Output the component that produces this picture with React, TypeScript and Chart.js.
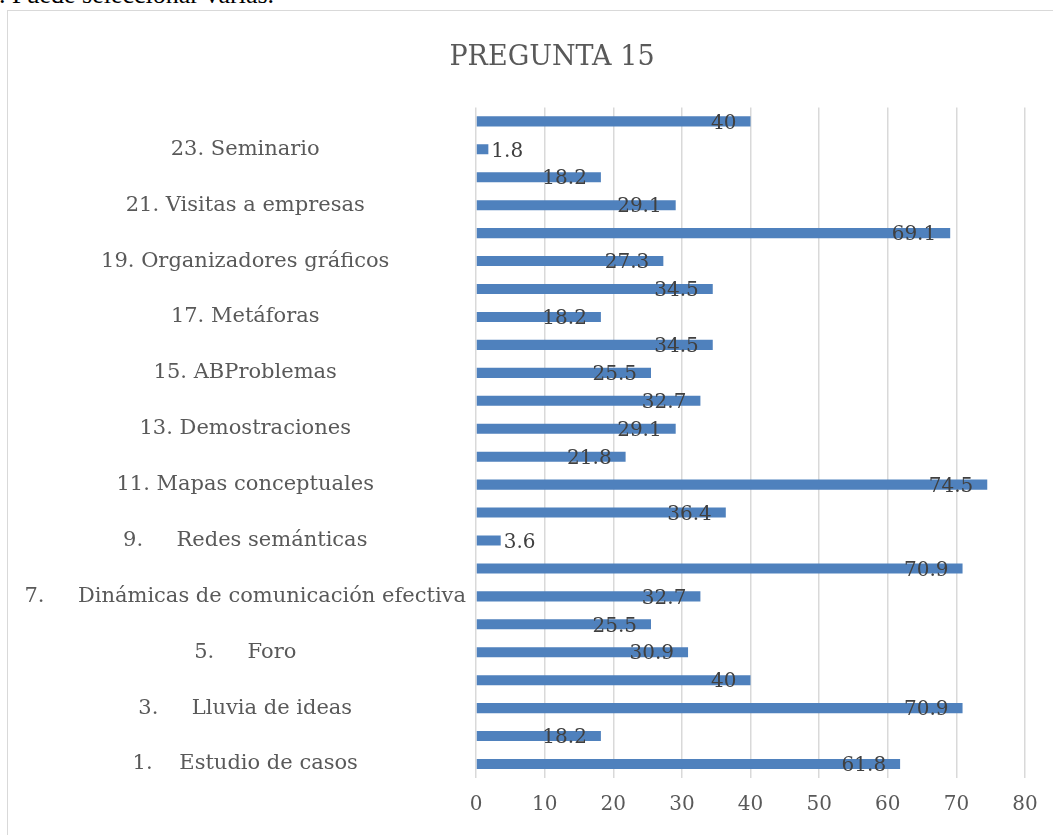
import React, { useEffect, useRef } from "react";
import { Chart, registerables } from "chart.js";

Chart.register(...registerables);

// ---- data ----
const HEADER_TEXT = ". Puede seleccionar varias.";
const TITLE = "PREGUNTA 15";
// index 0 = category 1 (drawn at the bottom); hidden labels are empty
const CATEGORIES = [
  "1.    Estudio de casos",
  "",
  "3.     Lluvia de ideas",
  "",
  "5.     Foro",
  "",
  "7.     Dinámicas de comunicación efectiva",
  "",
  "9.     Redes semánticas",
  "",
  "11. Mapas conceptuales",
  "",
  "13. Demostraciones",
  "",
  "15. ABProblemas",
  "",
  "17. Metáforas",
  "",
  "19. Organizadores gráficos",
  "",
  "21. Visitas a empresas",
  "",
  "23. Seminario",
  "",
];
const VALUES = [
  61.8, 18.2, 70.9, 40, 30.9, 25.5, 32.7, 70.9, 3.6, 36.4, 74.5, 21.8, 29.1,
  32.7, 25.5, 34.5, 18.2, 34.5, 27.3, 69.1, 29.1, 18.2, 1.8, 40,
];
const X_TICKS = [0, 10, 20, 30, 40, 50, 60, 70, 80];

const FONT = "'DejaVu Serif', serif";
const BAR_COLOR = "#4f81bd";
const TEXT_GRAY = "#595959";
const LABEL_COLOR = "#404040";
const GRID = "#d9d9d9";

const valueLabelPlugin = {
  id: "valueLabels",
  afterDatasetsDraw(chart: any) {
    const ctx = chart.ctx;
    const meta = chart.getDatasetMeta(0);
    ctx.save();
    ctx.font = `20px ${FONT}`;
    ctx.fillStyle = LABEL_COLOR;
    ctx.textBaseline = "middle";
    meta.data.forEach((bar: any, i: number) => {
      const v = VALUES[i];
      const text = String(v);
      const w = ctx.measureText(text).width;
      const len = bar.x - bar.base;
      if (len > w + 20) {
        ctx.textAlign = "right";
        ctx.fillText(text, bar.x - 14, bar.y + 2);
      } else {
        ctx.textAlign = "left";
        ctx.fillText(text, bar.x + 3, bar.y + 2);
      }
    });
    ctx.restore();
  },
};

function BarChart() {
  const ref = useRef<HTMLCanvasElement | null>(null);
  useEffect(() => {
    if (!ref.current) return;
    const chart = new Chart(ref.current, {
      type: "bar",
      data: {
        labels: CATEGORIES,
        datasets: [
          {
            data: VALUES,
            backgroundColor: BAR_COLOR,
            borderWidth: 0,
            barPercentage: 0.36,
            categoryPercentage: 1,
            yAxisID: "y",
          },
        ],
      },
      options: {
        indexAxis: "y",
        animation: false,
        responsive: false,
        maintainAspectRatio: false,
        layout: { padding: { left: 6, right: 6, top: 0, bottom: 9 } },
        plugins: {
          legend: { display: false },
          tooltip: { enabled: false },
          title: {
            display: true,
            text: TITLE,
            color: TEXT_GRAY,
            font: { family: FONT, size: 27, weight: "normal", lineHeight: 1.2 },
            padding: { top: 31, bottom: 33 },
          },
        },
        scales: {
          x: {
            type: "linear",
            min: X_TICKS[0],
            max: X_TICKS[X_TICKS.length - 1],
            afterBuildTicks: (axis: any) => {
              axis.ticks = X_TICKS.map((v) => ({ value: v }));
            },
            grid: { color: GRID, lineWidth: 1.5, drawTicks: false },
            border: { display: false },
            ticks: {
              color: TEXT_GRAY,
              padding: 15,
              font: { family: FONT, size: 20, lineHeight: 1.2 },
            },
          },
          y: {
            reverse: true,
            afterFit: (axis: any) => {
              axis.width = 462;
            },
            grid: { display: false, drawTicks: false },
            border: { display: false },
            ticks: {
              autoSkip: false,
              crossAlign: "center",
              padding: 10,
              color: TEXT_GRAY,
              font: { family: FONT, size: 21 },
            },
          },
          // empty spacer on the right: the chart frame extends past the plot
          spacer: {
            type: "linear",
            axis: "y",
            position: "right",
            grid: { display: false, drawTicks: false },
            border: { display: false },
            ticks: { display: false },
            afterFit: (axis: any) => {
              axis.width = 65;
            },
          },
        },
      },
      plugins: [valueLabelPlugin],
    } as any);
    return () => chart.destroy();
  }, []);
  return <canvas ref={ref} width={1088} height={830} style={{ display: "block" }} />;
}

export default function App() {
  return (
    <div
      style={{
        position: "fixed",
        left: 0,
        top: 0,
        width: 1053,
        height: 835,
        overflow: "hidden",
        background: "#fff",
      }}
    >
      <div
        style={{
          position: "absolute",
          left: -1,
          top: -20,
          fontFamily: "'Liberation Serif', serif",
          fontSize: 26,
          lineHeight: "30px",
          color: "#000",
          whiteSpace: "pre",
        }}
      >
        {HEADER_TEXT}
      </div>
      <div
        style={{
          position: "absolute",
          left: 7,
          top: 10,
          width: 1088,
          height: 860,
          border: "1px solid #d9d9d9",
          background: "#fff",
        }}
      >
        <BarChart />
      </div>
    </div>
  );
}
